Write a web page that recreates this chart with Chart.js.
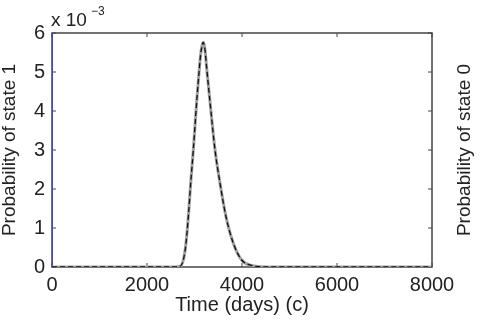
<!DOCTYPE html>
<html>
<head>
<meta charset="utf-8">
<script src="https://cdn.jsdelivr.net/npm/chart.js@4"></script>
<style>
  html, body { margin: 0; padding: 0; background: #fff; }
  #wrap { width: 480px; height: 321px; position: relative; }
</style>
</head>
<body>
<div id="wrap"><canvas id="chart"></canvas></div>
<script>
// Time axis (days)
const timeDays = [0, 2600, 2700, 2765, 2821, 2870, 2920, 2975, 3046, 3102, 3140, 3185, 3220, 3257, 3326, 3432, 3537, 3663, 3817, 3993, 4200, 4400, 4700, 8000];
// Probability of state 1, in units of 1e-3
const probState1 = [0, 0, 0.02, 0.18, 0.61, 1.29, 2.15, 3.0, 4.24, 5.09, 5.55, 5.76, 5.58, 5.09, 4.24, 3.0, 2.15, 1.29, 0.61, 0.18, 0.04, 0.005, 0, 0];
// Probability of state 0 (right axis)
const state0Days = [0, 0];
const probState0 = [1, 0];

const xTicks = [0, 2000, 4000, 6000, 8000];
const yTicks = [0, 1, 2, 3, 4, 5, 6];

const toPoints = (xs, ys) => xs.map((x, i) => ({ x: x, y: ys[i] }));
const FONT = "'Liberation Sans', Arial, Helvetica, sans-serif";
const TXT = "#222";

// frame + inward ticks, MATLAB style
const frameTicks = {
  id: "frameTicks",
  beforeDatasetsDraw(chart) {
    const { ctx, chartArea: a, scales } = chart;
    ctx.save();
    ctx.strokeStyle = "#444";
    ctx.lineWidth = 1.5;
    ctx.strokeRect(a.left, a.top, a.right - a.left, a.bottom - a.top);
    ctx.lineWidth = 1;
    ctx.beginPath();
    xTicks.forEach(v => {
      const px = scales.x.getPixelForValue(v);
      ctx.moveTo(px, a.bottom); ctx.lineTo(px, a.bottom - 4);
      ctx.moveTo(px, a.top); ctx.lineTo(px, a.top + 4);
    });
    yTicks.forEach(v => {
      const py = scales.y.getPixelForValue(v);
      ctx.moveTo(a.left, py); ctx.lineTo(a.left + 4, py);
      ctx.moveTo(a.right, py); ctx.lineTo(a.right - 4, py);
    });
    ctx.stroke();
    ctx.restore();
  },
  afterDraw(chart) {
    const { ctx, chartArea: a } = chart;
    ctx.save();
    ctx.fillStyle = TXT;
    ctx.textBaseline = "alphabetic";
    ctx.font = "19px " + FONT;
    ctx.fillText("x 10", a.left - 1, 26);
    ctx.font = "12px " + FONT;
    ctx.fillText("\u22123", a.left + 39, 15);
    // right axis title, reads bottom to top
    ctx.translate(465, (a.top + a.bottom) / 2);
    ctx.rotate(-Math.PI / 2);
    ctx.font = "19px " + FONT;
    ctx.textAlign = "center";
    ctx.textBaseline = "middle";
    ctx.fillText("Probability of state 0", 0, 0);
    ctx.restore();
  }
};

new Chart(document.getElementById("chart"), {
  type: "line",
  data: {
    datasets: [
      {
        label: "state 1 (sim)",
        data: toPoints(timeDays, probState1),
        borderColor: "#111",
        borderWidth: 1.3,
        borderDash: [5, 3],
        pointRadius: 0,
        cubicInterpolationMode: "monotone",
        yAxisID: "y"
      },
      {
        label: "state 1",
        data: toPoints(timeDays, probState1),
        borderColor: "#a0a0a0",
        borderWidth: 3,
        pointRadius: 0,
        cubicInterpolationMode: "monotone",
        yAxisID: "y"
      },
      {
        label: "state 0",
        data: toPoints(state0Days, probState0),
        borderColor: "#3b3bff",
        borderWidth: 1,
        pointRadius: 0,
        yAxisID: "y1"
      }
    ]
  },
  options: {
    responsive: true,
    maintainAspectRatio: false,
    animation: false,
    layout: { padding: { top: 33, right: 48, left: 0, bottom: 0 } },
    plugins: { legend: { display: false }, tooltip: { enabled: false } },
    scales: {
      x: {
        type: "linear",
        min: 0, max: 8000,
        afterBuildTicks: s => { s.ticks = xTicks.map(v => ({ value: v })); },
        afterFit: s => { s.height = 54; },
        grid: { display: false, drawTicks: false },
        border: { display: false },
        ticks: {
          color: TXT, font: { family: FONT, size: 20 }, padding: 6, maxRotation: 0,
          callback: v => String(v)
        },
        title: {
          display: true, text: "Time (days) (c)", color: TXT,
          font: { family: FONT, size: 20 }, padding: { top: 0, bottom: 4 }
        }
      },
      y: {
        min: 0, max: 6,
        afterBuildTicks: s => { s.ticks = yTicks.map(v => ({ value: v })); },
        afterFit: s => { s.width = 52; },
        grid: { display: false, drawTicks: false },
        border: { display: false },
        ticks: { color: TXT, font: { family: FONT, size: 20 }, padding: 7 },
        title: {
          display: true, text: "Probability of state 1", color: TXT,
          font: { family: FONT, size: 19, lineHeight: 1 }, padding: { top: 0, bottom: 0 }
        }
      },
      y1: {
        display: false,
        position: "right",
        min: 0, max: 1
      }
    }
  },
  plugins: [frameTicks]
});
</script>
</body>
</html>
